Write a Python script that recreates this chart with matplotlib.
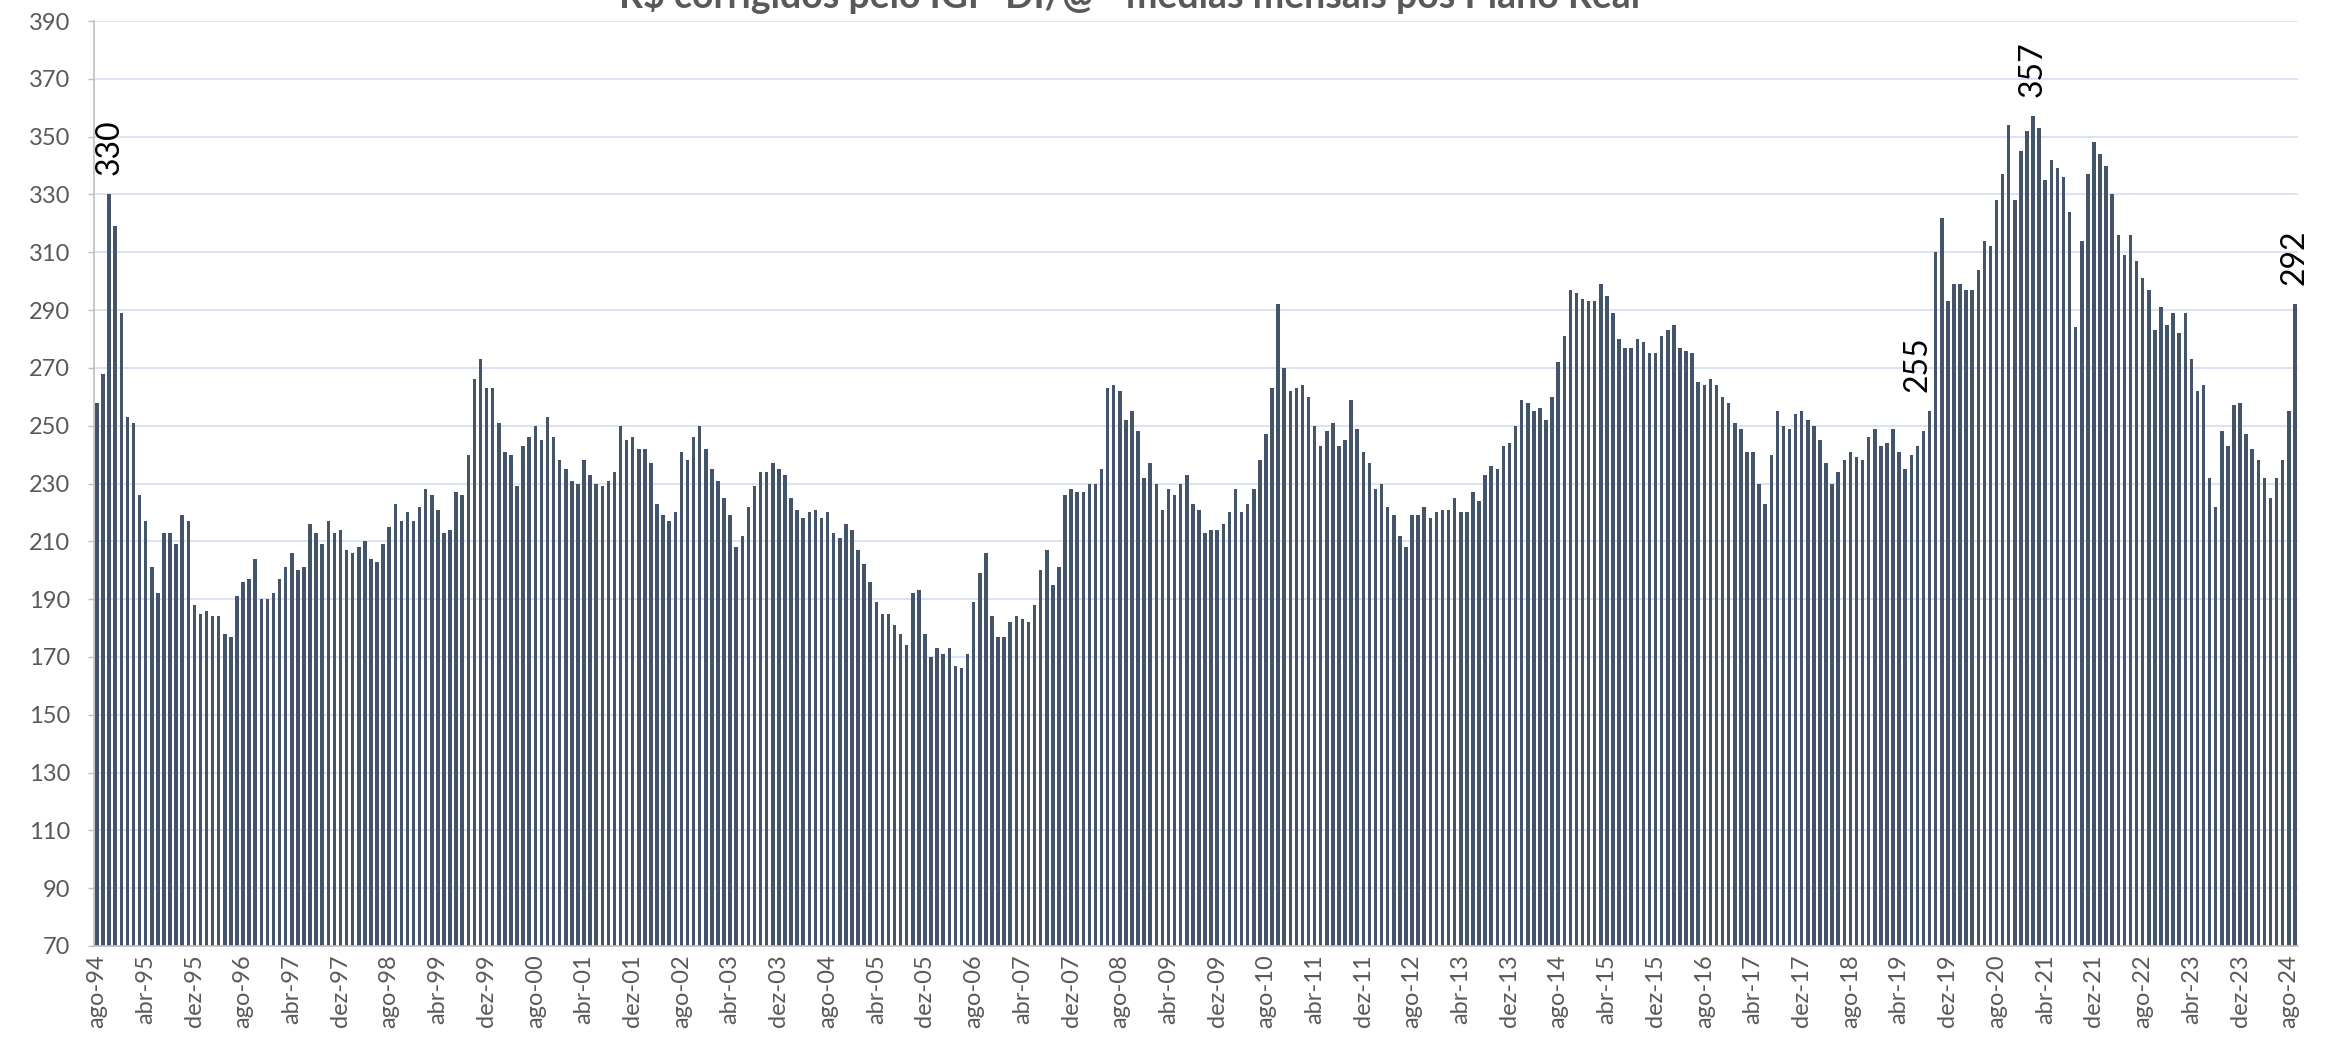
import matplotlib
matplotlib.use("Agg")
import matplotlib.pyplot as plt
import numpy as np

# ══════════════════════════════════════════════════════════════
# Data: R$/@ deflated by IGP-DI, monthly means, ago-94 .. set-24
# ══════════════════════════════════════════════════════════════

MESES = ["jan", "fev", "mar", "abr", "mai", "jun",
         "jul", "ago", "set", "out", "nov", "dez"]
START_YEAR  = 1994
START_MONTH = 7        # index in MESES -> "ago"
TICK_EVERY  = 8        # Excel shows one category label every 8 months

PRECOS = [
    # 1994-1996
    258, 268, 330, 319, 289, 253, 251, 226, 217, 201, 192, 213, 213, 209, 219, 217,
    188, 185, 186, 184, 184, 178, 177, 191, 196, 197, 204, 190, 190, 192, 197,
    201, 206, 200, 201, 216, 213, 209, 217, 213, 214, 207, 206, 208, 210, 204,
    203, 209, 215, 223, 217, 220, 217, 222, 228, 226, 221, 213, 214, 227, 226,
    # 1999-2001
    240, 266, 273, 263, 263, 251, 241, 240, 229, 243, 246, 250, 245, 253, 246,
    238, 235, 231, 230, 238, 233, 230, 229, 231, 234, 250, 245, 246, 242, 242, 237,
    223, 219, 217, 220, 241, 238, 246, 250, 242, 235, 231, 225, 219, 208, 212,
    222, 229, 234, 234, 237, 235, 233, 225, 221, 218, 220, 221, 218, 220, 213,
    # 2004-2007
    211, 216, 214, 207, 202, 196, 189, 185, 185, 181, 178, 174, 192, 193, 178,
    170, 173, 171, 173, 167, 166, 171, 189, 199, 206, 184, 177, 177, 182, 184, 183,
    182, 188, 200, 207, 195, 201, 226, 228, 227, 227, 230, 230, 235, 263, 264,
    262, 252, 255, 248, 232, 237, 230, 221, 228, 226, 230, 233, 223, 221,
    # 2009-2012
    213, 214, 214, 216, 220, 228, 220, 223, 228, 238, 247, 263, 292, 270, 262,
    263, 264, 260, 250, 243, 248, 251, 243, 245, 259, 249, 241, 237, 228, 230, 222,
    219, 212, 208, 219, 219, 222, 218, 220, 221, 221, 225, 220, 220, 227, 224,
    233, 236, 235, 243, 244, 250, 259, 258, 255, 256, 252, 260, 272, 281, 297,
    # 2014-2017
    296, 294, 293, 293, 299, 295, 289, 280, 277, 277, 280, 279, 275, 275, 281,
    283, 285, 277, 276, 275, 265, 264, 266, 264, 260, 258, 251, 249, 241, 241, 230,
    223, 240, 255, 250, 249, 254, 255, 252, 250, 245, 237, 230, 234, 238, 241,
    239, 238, 246, 249, 243, 244, 249, 241, 235, 240, 243, 248, 255, 310, 322,
    # 2019-2024
    293, 299, 299, 297, 297, 304, 314, 312, 328, 337, 354, 328, 345, 352, 357,
    353, 335, 342, 339, 336, 324, 284, 314, 337, 348, 344, 340, 330, 316, 309, 316,
    307, 301, 297, 283, 291, 285, 289, 282, 289, 273, 262, 264, 232, 222, 248,
    243, 257, 258, 247, 242, 238, 232, 225, 232, 238, 255, 292,
]

# months that carry a data label in the original chart
ROTULOS = ["out-94", "set-19", "fev-21", "set-24"]

Y_MIN, Y_MAX, Y_STEP = 70, 390, 20

TITULO = "R$ corrigidos pelo IGP-DI/@ - médias mensais pós Plano Real"

# ══════════════════════════════════════════════════════════════
# Style
# ══════════════════════════════════════════════════════════════

COR_BARRA = "#44546A"
COR_GRADE = "#D9E2F3"
COR_EIXO  = "#BFBFBF"
COR_TEXTO = "#595959"

plt.rcParams["font.family"] = ["Lato", "DejaVu Sans"]


def nomes_meses(n):
    """Category names like 'ago-94' for n consecutive months."""
    nomes = []
    for i in range(n):
        m = START_MONTH + i
        ano = START_YEAR + m // 12
        nomes.append(f"{MESES[m % 12]}-{ano % 100:02d}")
    return nomes


def main():
    categorias = nomes_meses(len(PRECOS))
    x = np.arange(len(PRECOS))

    fig = plt.figure(figsize=(23.36, 10.58), dpi=100)
    ax = fig.add_axes([0.0402, 0.1059, 0.9435, 0.8742])

    ax.bar(x, PRECOS, width=0.58, color=COR_BARRA, zorder=3)

    # ── axes ────────────────────────────────────────────────
    ax.set_xlim(-0.5, len(PRECOS) - 0.5)
    ax.set_ylim(Y_MIN, Y_MAX)
    ax.set_yticks(np.arange(Y_MIN, Y_MAX + 1, Y_STEP))
    ax.grid(axis="y", color=COR_GRADE, linewidth=1.4, zorder=0)

    pos = x[::TICK_EVERY]
    ax.set_xticks(pos)
    ax.set_xticklabels([categorias[i] for i in pos], rotation=90,
                       ha="center", va="top")

    ax.tick_params(axis="y", length=4, width=1, color=COR_EIXO, pad=13,
                   labelsize=17, labelcolor=COR_TEXTO)
    ax.tick_params(axis="x", length=0, pad=6, labelsize=17,
                   labelcolor=COR_TEXTO)

    for lado in ("top", "right"):
        ax.spines[lado].set_visible(False)
    for lado in ("left", "bottom"):
        ax.spines[lado].set_color(COR_EIXO)
        ax.spines[lado].set_linewidth(1.2)
        ax.spines[lado].set_zorder(4)

    # ── data labels ─────────────────────────────────────────
    for rot in ROTULOS:
        i = categorias.index(rot)
        dx = -9 if rot == "set-19" else 0   # Excel nudged this one left
        ax.annotate(f"{PRECOS[i]:.0f}", xy=(i, PRECOS[i]),
                    xytext=(dx, 14), textcoords="offset points",
                    rotation=90, ha="center", va="bottom",
                    fontsize=23, color="black", annotation_clip=False)

    # title is cut at the top edge in the original picture
    fig.text(0.4835, 1 - 8 / 1058, TITULO, ha="center", va="baseline",
             fontsize=27, fontweight="bold", color=COR_TEXTO)

    fig.savefig("out.png", dpi=100)
    plt.close(fig)


if __name__ == "__main__":
    main()
